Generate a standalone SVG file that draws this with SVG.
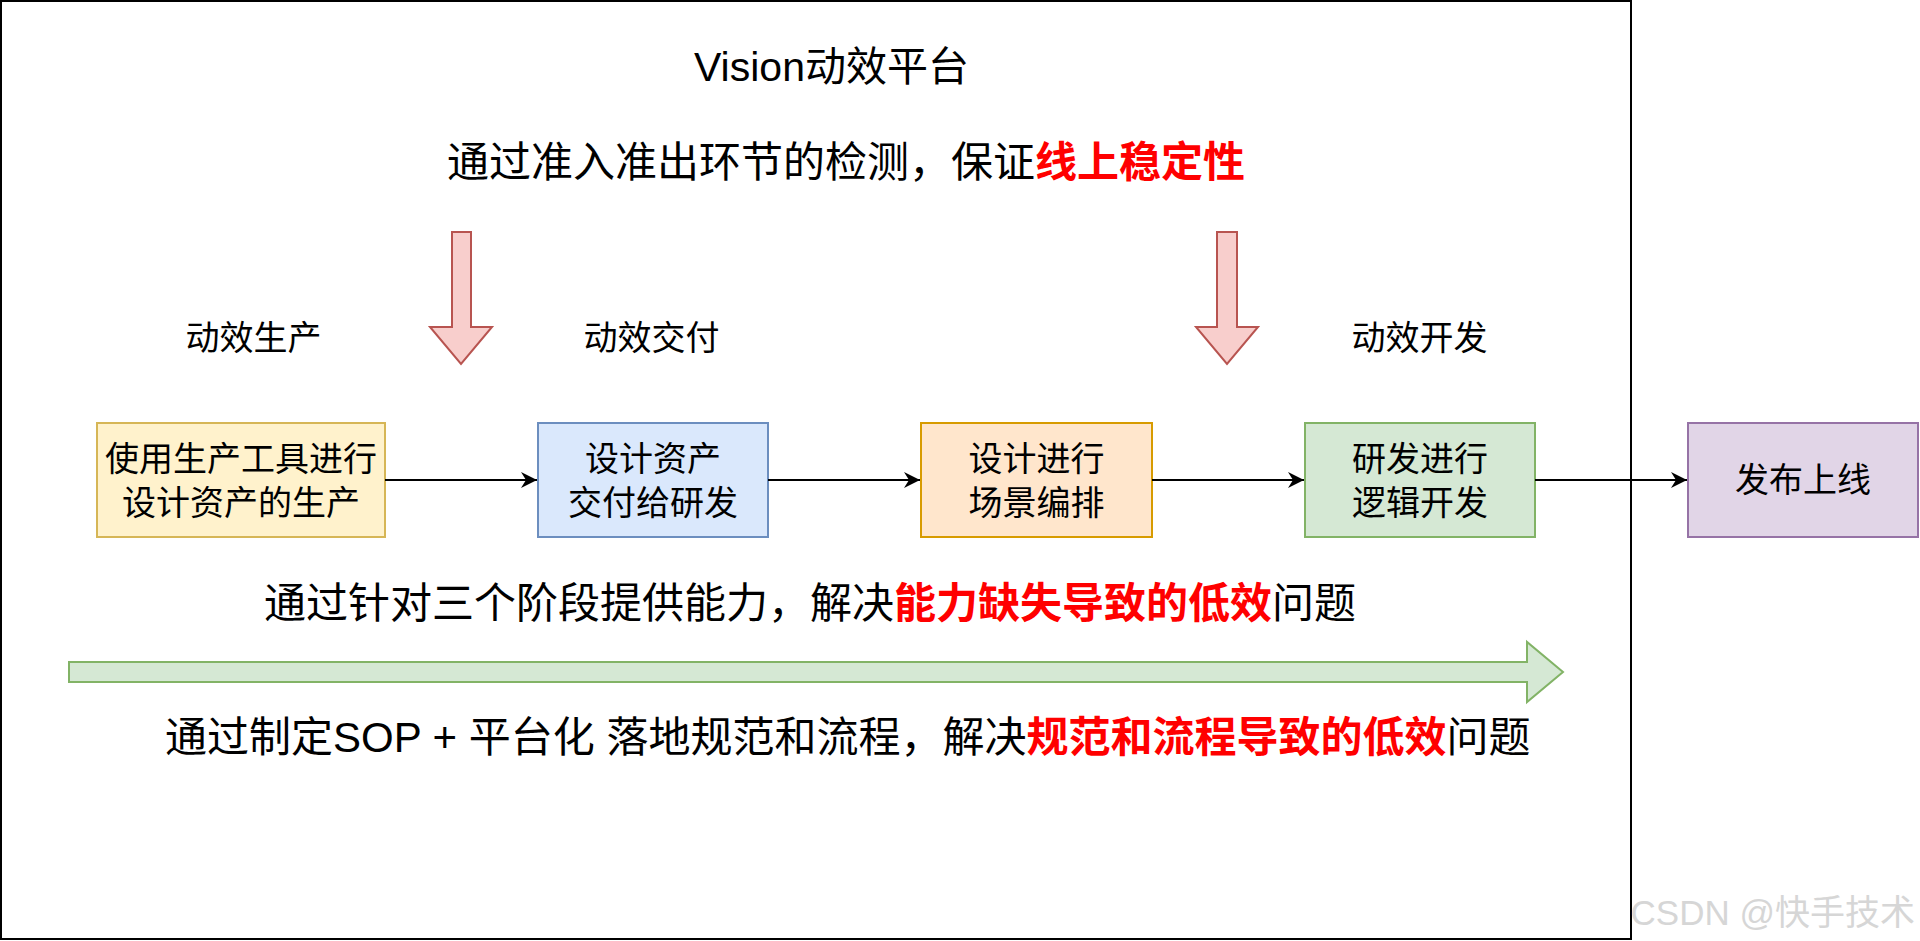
<svg xmlns="http://www.w3.org/2000/svg" width="1920" height="941" viewBox="0 0 1920 941">
  <style>
    .t { font-family: "Liberation Sans", "Noto Sans CJK SC", sans-serif; fill: #000000; }
    .big { font-size: 42px; }
    .mid { font-size: 34px; }
    .red { fill: #ff0000; font-weight: bold; }
    .node { stroke-width: 2; }
    .conn { stroke: #000000; stroke-width: 2; fill: none; marker-end: url(#arrow); }
  </style>
  <defs>
    <marker id="arrow" markerUnits="userSpaceOnUse" markerWidth="17" markerHeight="17" viewBox="0 0 17 17" refX="16" refY="8" orient="auto">
      <path d="M0,0 L16,8 L0,16 L5,8 Z" fill="#000000"/>
    </marker>
  </defs>
  <rect x="0" y="0" width="1920" height="941" fill="#ffffff"/>

  <g id="container">
    <rect x="1" y="1" width="1630" height="938" fill="none" stroke="#000000" stroke-width="2"/>
  </g>

  <g id="title">
    <text class="t" x="694" y="81" font-size="41px">Vision动效平台</text>
  </g>

  <g id="line-stability">
    <text class="t big" x="447" y="177">通过准入准出环节的检测，保证<tspan class="red">线上稳定性</tspan></text>
  </g>

  <g id="check-arrow-1">
    <polygon points="452,232 471,232 471,327 492,327 461,364 430,327 452,327" fill="#f8cecc" stroke="#b85450" stroke-width="2"/>
  </g>
  <g id="check-arrow-2">
    <polygon points="1217,232 1237,232 1237,327 1258,327 1227,364 1196,327 1217,327" fill="#f8cecc" stroke="#b85450" stroke-width="2"/>
  </g>

  <g id="label-production">
    <text class="t mid" x="253.5" y="350" text-anchor="middle">动效生产</text>
  </g>
  <g id="label-delivery">
    <text class="t mid" x="651.5" y="350" text-anchor="middle">动效交付</text>
  </g>
  <g id="label-development">
    <text class="t mid" x="1419.5" y="350" text-anchor="middle">动效开发</text>
  </g>

  <g id="node-produce">
    <rect class="node" x="97" y="423" width="288" height="114" fill="#fff2cc" stroke="#d6b656"/>
    <text class="t mid" x="241" y="471" text-anchor="middle">使用生产工具进行</text>
    <text class="t mid" x="241" y="515" text-anchor="middle">设计资产的生产</text>
  </g>
  <g id="node-deliver">
    <rect class="node" x="538" y="423" width="230" height="114" fill="#dae8fc" stroke="#6c8ebf"/>
    <text class="t mid" x="653" y="471" text-anchor="middle">设计资产</text>
    <text class="t mid" x="653" y="515" text-anchor="middle">交付给研发</text>
  </g>
  <g id="node-arrange">
    <rect class="node" x="921" y="423" width="231" height="114" fill="#ffe6cc" stroke="#d79b00"/>
    <text class="t mid" x="1036.5" y="471" text-anchor="middle">设计进行</text>
    <text class="t mid" x="1036.5" y="515" text-anchor="middle">场景编排</text>
  </g>
  <g id="node-develop">
    <rect class="node" x="1305" y="423" width="230" height="114" fill="#d5e8d4" stroke="#82b366"/>
    <text class="t mid" x="1420" y="471" text-anchor="middle">研发进行</text>
    <text class="t mid" x="1420" y="515" text-anchor="middle">逻辑开发</text>
  </g>
  <g id="node-release">
    <rect class="node" x="1688" y="423" width="230" height="114" fill="#e1d5e7" stroke="#9673a6"/>
    <text class="t mid" x="1803" y="492" text-anchor="middle">发布上线</text>
  </g>

  <g id="connectors">
    <line class="conn" x1="385" y1="480" x2="537" y2="480"/>
    <line class="conn" x1="768" y1="480" x2="920" y2="480"/>
    <line class="conn" x1="1152" y1="480" x2="1304" y2="480"/>
    <line class="conn" x1="1535" y1="480" x2="1687" y2="480"/>
  </g>

  <g id="line-capability">
    <text class="t big" x="264" y="618">通过针对三个阶段提供能力，解决<tspan class="red">能力缺失导致的低效</tspan>问题</text>
  </g>

  <g id="progress-arrow">
    <polygon points="69,662 1527,662 1527,642 1563,672 1527,702 1527,682 69,682" fill="#d5e8d4" stroke="#82b366" stroke-width="2"/>
  </g>

  <g id="line-sop">
    <text class="t big" x="165" y="752">通过制定SOP + 平台化 落地规范和流程，解决<tspan class="red">规范和流程导致的低效</tspan>问题</text>
  </g>

  <g id="watermark">
    <text class="t" x="1915" y="925" font-size="35px" text-anchor="end" style="fill:#d6d6d6">CSDN @快手技术</text>
  </g>
</svg>
